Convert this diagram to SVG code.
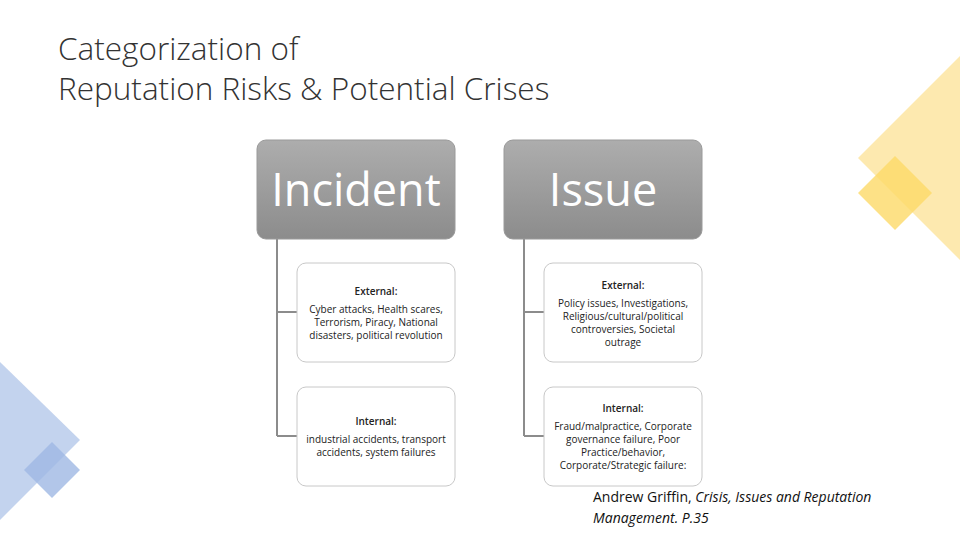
<svg xmlns="http://www.w3.org/2000/svg" width="960" height="540" viewBox="0 0 960 540">
<defs>
<linearGradient id="g" x1="0" y1="0" x2="0" y2="1"><stop offset="0" stop-color="#adadad"/><stop offset="1" stop-color="#8c8c8c"/></linearGradient>
<style>
.head{fill:url(#g);stroke:#9a9a9a;stroke-width:1}
.ht{font-family:"Open Sans","Liberation Sans",sans-serif;font-size:45px;fill:#fff;text-anchor:middle}
.box{fill:#fff;stroke:#c8c8c8;stroke-width:1}
.t{font-family:"Open Sans","Liberation Sans",sans-serif;font-size:10px;fill:#222;text-anchor:middle}
.b{font-weight:600}
.c{fill:none;stroke:#8c8c8c;stroke-width:2}
</style>
</defs>
<rect width="960" height="540" fill="#fff"/>
<g id="decor">
<polygon points="960,56 858,158 960,260" fill="#fde7a6" opacity="0.9"/>
<polygon points="895,156 932,193 895,230 858,193" fill="#fcd968" opacity="0.8"/>
<polygon points="0,362 80,440 0,520" fill="#c3d3ee"/>
<polygon points="52,442 80,470 52,498 24,470" fill="#9fb8e3" opacity="0.8"/>
</g>
<g id="title" font-family="'Open Sans','Liberation Sans',sans-serif" font-weight="300" font-size="31.5" fill="#333">
<text x="58" y="60">Categorization of</text>
<text x="58" y="100">Reputation Risks &amp; Potential Crises</text>
</g>
<g id="connectors">
<path class="c" d="M277,239 V436 M277,312 H297 M277,436 H297"/>
<path class="c" d="M524,239 V436 M524,312 H544 M524,436 H544"/>
</g>
<g id="incident"><rect class="head" x="257" y="140" width="198" height="99" rx="9"/><text class="ht" x="356" y="206">Incident</text></g>
<g id="issue"><rect class="head" x="504" y="140" width="198" height="99" rx="9"/><text class="ht" x="603" y="206">Issue</text></g>
<g id="inc-ext"><rect class="box" x="297" y="263" width="158" height="99" rx="9"/>
<text class="t b" x="376" y="295">External:</text>
<text class="t" x="376" y="313">Cyber attacks, Health scares,</text>
<text class="t" x="376" y="326">Terrorism, Piracy, National</text>
<text class="t" x="376" y="339">disasters, political revolution</text></g>
<g id="inc-int"><rect class="box" x="297" y="387" width="158" height="99" rx="9"/>
<text class="t b" x="376" y="425">Internal:</text>
<text class="t" x="376" y="443">industrial accidents, transport</text>
<text class="t" x="376" y="456">accidents, system failures</text></g>
<g id="iss-ext"><rect class="box" x="544" y="263" width="158" height="99" rx="9"/>
<text class="t b" x="623" y="289">External:</text>
<text class="t" x="623" y="307">Policy issues, Investigations,</text>
<text class="t" x="623" y="320">Religious/cultural/political</text>
<text class="t" x="623" y="333">controversies, Societal</text>
<text class="t" x="623" y="346">outrage</text></g>
<g id="iss-int"><rect class="box" x="544" y="387" width="158" height="99" rx="9"/>
<text class="t b" x="623" y="412">Internal:</text>
<text class="t" x="623" y="430">Fraud/malpractice, Corporate</text>
<text class="t" x="623" y="443">governance failure, Poor</text>
<text class="t" x="623" y="456">Practice/behavior,</text>
<text class="t" x="623" y="469">Corporate/Strategic failure:</text></g>
<g id="citation" font-family="'Open Sans','Liberation Sans',sans-serif" font-size="14" fill="#111">
<text x="593" y="502">Andrew Griffin, <tspan font-style="italic">Crisis, Issues and Reputation</tspan></text>
<text x="593" y="523" font-style="italic">Management. P.35</text>
</g>
</svg>
